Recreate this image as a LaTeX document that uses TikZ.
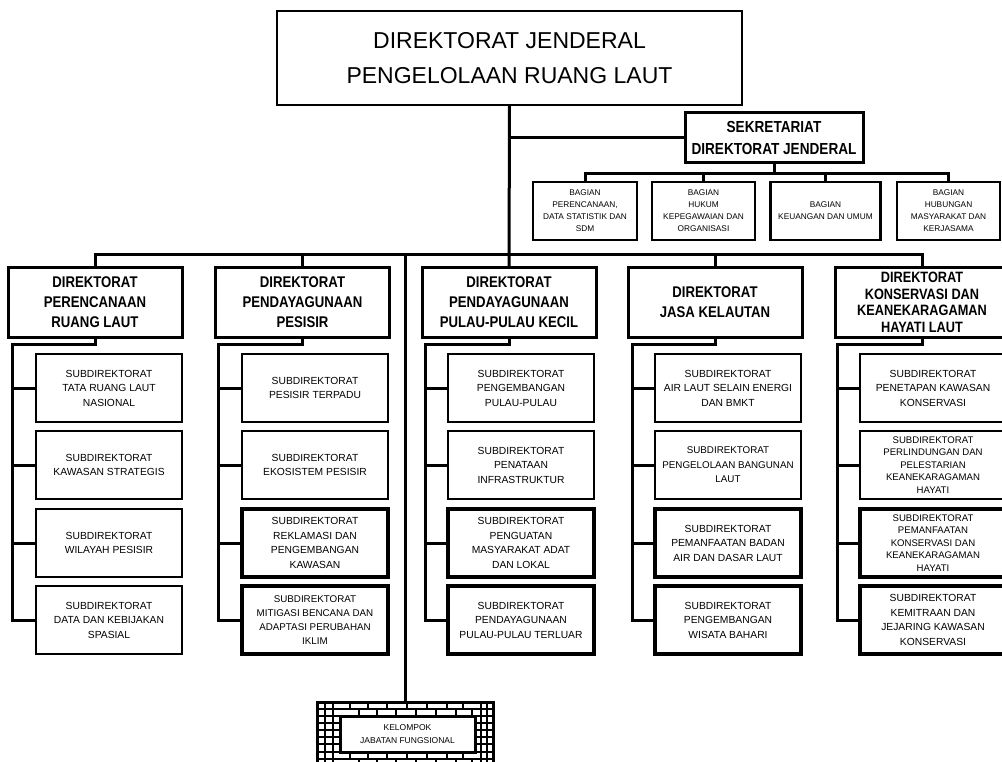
\documentclass[tikz,border=0pt]{standalone}
\usepackage{fontspec}
\setmainfont{Liberation Sans}
\newfontfamily\condb[FakeStretch=0.85]{Liberation Sans}
\tikzset{
  conn/.style={line width=3pt},
  base/.style={draw, inner sep=0pt, outer sep=0pt, align=center, fill=white},
  topbox/.style={base, line width=2pt, minimum width=465pt, minimum height=94pt, font=\fontsize{23}{35}\selectfont},
  sekbox/.style={base, line width=3pt, minimum width=178pt, minimum height=50pt, font=\condb\bfseries\fontsize{16}{22}\selectfont},
  bagbox/.style={base, line width=2.5pt, minimum height=58pt, font=\fontsize{8.3}{12}\selectfont},
  dirbox/.style={base, line width=3pt, minimum width=174pt, minimum height=69pt, font=\condb\bfseries\fontsize{15.5}{20}\selectfont},
  subbox/.style={base, line width=2.5pt, minimum width=146pt, minimum height=68pt, font=\fontsize{10.3}{14.5}\selectfont},
  subboxb/.style={subbox, line width=3.6pt},
  kelbox/.style={base, line width=3pt, minimum width=135pt, minimum height=36pt, font=\fontsize{8.5}{13}\selectfont},
  gridline/.style={line width=1.3pt},
}
\begin{document}
\begin{tikzpicture}[x=1pt,y=-1pt]
\fill[white] (0,0) rectangle (1002,762);
\useasboundingbox (0,0) rectangle (1002,762);

% top
\node[topbox] (top) at (509.5,58) {DIREKTORAT JENDERAL\\PENGELOLAAN RUANG LAUT};
\node[sekbox] (sek) at (774,138) {SEKRETARIAT\\DIREKTORAT JENDERAL};
\node[bagbox, minimum width=104pt] (bag1) at (585,211) {BAGIAN\\PERENCANAAN,\\DATA STATISTIK DAN\\SDM};
\node[bagbox, minimum width=103pt] (bag2) at (703.5,211) {BAGIAN\\HUKUM\\KEPEGAWAIAN DAN\\ORGANISASI};
\node[bagbox, minimum width=110pt] (bag3) at (825.5,211) {BAGIAN\\KEUANGAN DAN UMUM};
\node[bagbox, minimum width=103pt] (bag4) at (948.5,211) {BAGIAN\\HUBUNGAN\\MASYARAKAT DAN\\KERJASAMA};

% directorates
\node[dirbox] (dir1) at (95,302.5) {DIREKTORAT\\PERENCANAAN\\RUANG LAUT};
\node[dirbox] (dir2) at (302.5,302.5) {DIREKTORAT\\PENDAYAGUNAAN\\PESISIR};
\node[dirbox] (dir3) at (509,302.5) {DIREKTORAT\\PENDAYAGUNAAN\\PULAU-PULAU KECIL};
\node[dirbox] (dir4) at (715,302.5) {DIREKTORAT\\JASA KELAUTAN};
\node[dirbox, font=\condb\bfseries\fontsize{15}{16.5}\selectfont] (dir5) at (922,302.5) {DIREKTORAT\\KONSERVASI DAN\\KEANEKARAGAMAN\\HAYATI LAUT};

% column 1
\node[subbox] (s11) at (109,388) {SUBDIREKTORAT\\TATA RUANG LAUT\\NASIONAL};
\node[subbox] (s12) at (109,465) {SUBDIREKTORAT\\KAWASAN STRATEGIS};
\node[subbox] (s13) at (109,543) {SUBDIREKTORAT\\WILAYAH PESISIR};
\node[subbox] (s14) at (109,620) {SUBDIREKTORAT\\DATA DAN KEBIJAKAN\\SPASIAL};
% column 2
\node[subbox] (s21) at (315,388) {SUBDIREKTORAT\\PESISIR TERPADU};
\node[subbox] (s22) at (315,465) {SUBDIREKTORAT\\EKOSISTEM PESISIR};
\node[subboxb] (s23) at (315,543) {SUBDIREKTORAT\\REKLAMASI DAN\\PENGEMBANGAN\\KAWASAN};
\node[subboxb, font=\fontsize{9.8}{14}\selectfont] (s24) at (315,620) {SUBDIREKTORAT\\MITIGASI BENCANA DAN\\ADAPTASI PERUBAHAN\\IKLIM};
% column 3
\node[subbox] (s31) at (521,388) {SUBDIREKTORAT\\PENGEMBANGAN\\PULAU-PULAU};
\node[subbox] (s32) at (521,465) {SUBDIREKTORAT\\PENATAAN\\INFRASTRUKTUR};
\node[subboxb] (s33) at (521,543) {SUBDIREKTORAT\\PENGUATAN\\MASYARAKAT ADAT\\DAN LOKAL};
\node[subboxb] (s34) at (521,620) {SUBDIREKTORAT\\PENDAYAGUNAAN\\PULAU-PULAU TERLUAR};
% column 4
\node[subbox] (s41) at (728,388) {SUBDIREKTORAT\\AIR LAUT SELAIN ENERGI\\DAN BMKT};
\node[subbox, font=\fontsize{9.8}{14.5}\selectfont] (s42) at (728,465) {SUBDIREKTORAT\\PENGELOLAAN BANGUNAN\\LAUT};
\node[subboxb] (s43) at (728,543) {SUBDIREKTORAT\\PEMANFAATAN BADAN\\AIR DAN DASAR LAUT};
\node[subboxb] (s44) at (728,620) {SUBDIREKTORAT\\PENGEMBANGAN\\WISATA BAHARI};
% column 5
\node[subbox] (s51) at (933,388) {SUBDIREKTORAT\\PENETAPAN KAWASAN\\KONSERVASI};
\node[subbox, font=\fontsize{9.6}{12.5}\selectfont] (s52) at (933,465) {SUBDIREKTORAT\\PERLINDUNGAN DAN\\PELESTARIAN\\KEANEKARAGAMAN\\HAYATI};
\node[subboxb, font=\fontsize{9.6}{12.5}\selectfont] (s53) at (933,543) {SUBDIREKTORAT\\PEMANFAATAN\\KONSERVASI DAN\\KEANEKARAGAMAN\\HAYATI};
\node[subboxb] (s54) at (933,620) {SUBDIREKTORAT\\KEMITRAAN DAN\\JEJARING KAWASAN\\KONSERVASI};

% kelompok jabatan fungsional
\node[base, draw=none, fill=none, minimum width=176pt, minimum height=68pt] (kelf) at (405,736) {};
\begin{scope}
\clip (317,702) rectangle (493,772);
\foreach \yy in {709,716,752,759}
  \draw[gridline] (317,\yy) -- (493,\yy);
\foreach \yy in {723,730,737,744}
  { \draw[gridline] (317,\yy) -- (340,\yy); \draw[gridline] (475,\yy) -- (493,\yy); }
\foreach \xx in {325,333,481,487}
  \draw[gridline] (\xx,702) -- (\xx,772);
\foreach \xx in {350,368,387,407,427,447,463}
  { \draw[gridline] (\xx,702) -- (\xx,709); \draw[gridline] (\xx+9,709) -- (\xx+9,716);
    \draw[gridline] (\xx,752) -- (\xx,759); \draw[gridline] (\xx+9,759) -- (\xx+9,772); }
\end{scope}
\draw[line width=3pt] (317,702) rectangle (493,775);
\node[kelbox] (kel) at (407.5,734) {KELOMPOK\\JABATAN FUNGSIONAL};

% connectors: top
\coordinate (bar) at (95,255);
\coordinate (sekj) at (774,174);
\draw[conn] (top.south) -- (dir3.north);
\draw[conn] (top.south |- sek.west) -- (sek.west);
\draw[conn] (sek.south) -- (sekj);
\draw[conn] (bag1.north) -- (bag1.north |- sekj) -- (bag4.north |- sekj) -- (bag4.north);
\draw[conn] (bag2.north) -- (bag2.north |- sekj);
\draw[conn] (bag3.north) -- (bag3.north |- sekj);
\draw[conn] (dir1.north) -- (dir1.north |- bar) -- (dir5.north |- bar) -- (dir5.north);
\draw[conn] (dir2.north) -- (dir2.north |- bar);
\draw[conn] (dir4.north) -- (dir4.north |- bar);
\draw[conn] (kelf.north) -- (kelf.north |- bar);

% connectors: columns
\foreach \c/\xl in {1/12,2/218,3/425,4/632,5/837} {
  \coordinate (j\c) at (\xl,344);
  \draw[conn] (dir\c.south) -- (dir\c.south |- j\c) -- (j\c) -- (j\c |- s\c4.west) -- (s\c4.west);
  \foreach \r in {1,2,3}
    \draw[conn] (j\c |- s\c\r.west) -- (s\c\r.west);
}
\end{tikzpicture}
\end{document}
